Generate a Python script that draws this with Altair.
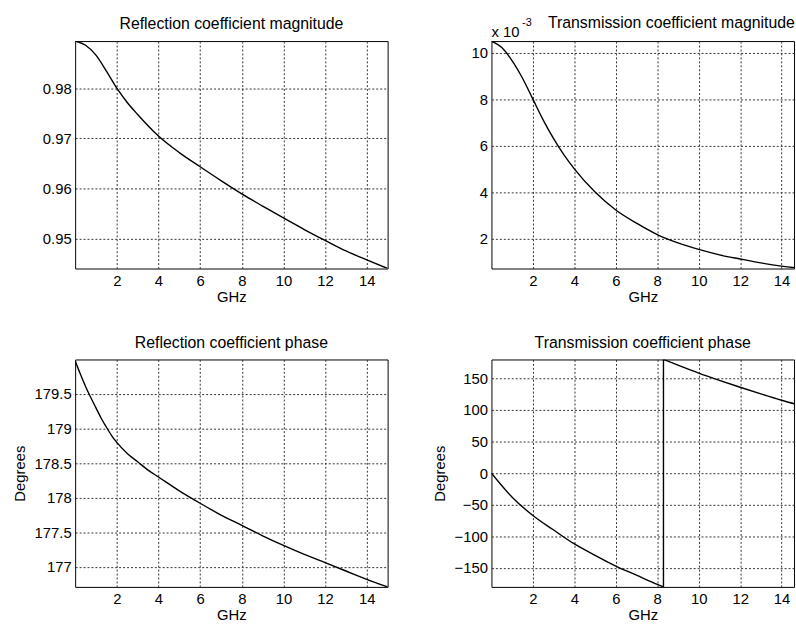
import altair as alt
import pandas as pd

# ---------------- data ----------------
freq_rm = [0, 0.5, 1, 1.5, 2, 2.5, 3, 4, 5, 6, 7, 8, 9, 10, 11, 12, 13, 14, 15]
refl_mag = [0.9894, 0.98857, 0.9866, 0.9834, 0.98, 0.97715, 0.97475, 0.97045,
            0.96714, 0.96431, 0.96155, 0.9589, 0.95647, 0.95409, 0.95178, 0.9496,
            0.9475, 0.94572, 0.944]

freq_tm = [0, 0.5, 1, 1.5, 2, 2.5, 3, 3.5, 4, 5, 6, 7, 8, 9, 10, 11, 12, 13, 14, 15]
trans_mag_e3 = [10.5, 10.22, 9.65, 8.9, 8.0, 7.1, 6.3, 5.6, 5.0, 4.0, 3.23, 2.66,
                2.17, 1.81, 1.53, 1.3, 1.12, 0.95, 0.81, 0.71]

freq_rp = [0, 0.25, 0.5, 0.75, 1, 1.25, 1.5, 1.75, 2, 2.5, 3, 3.5, 4, 5, 6, 7, 8,
           9, 10, 11, 12, 13, 14, 15]
refl_phase = [179.98, 179.79, 179.61, 179.45, 179.3, 179.15, 179.02, 178.9, 178.8,
              178.64, 178.52, 178.4, 178.3, 178.1, 177.92, 177.75, 177.6, 177.45,
              177.31, 177.18, 177.06, 176.94, 176.82, 176.71]

# transmission phase wraps from -180 to +180 near 8.3 GHz (segment = line piece)
freq_tp = [0, 1, 2, 3, 4, 5, 6, 7, 8, 8.3,
           8.3, 8.3,
           8.3, 9, 10, 11, 12, 13, 14, 15]
trans_phase = [0, -38, -67, -90, -112, -130, -147, -161.5, -176, -180,
               -180, 180,
               180, 171, 158.5, 147, 136, 125.5, 115.5, 106.5]
seg_tp = [0, 0, 0, 0, 0, 0, 0, 0, 0, 0,
          1, 1,
          2, 2, 2, 2, 2, 2, 2, 2]

x_ticks = [2, 4, 6, 8, 10, 12, 14]
rm_ticks = [0.95, 0.96, 0.97, 0.98]
tm_ticks = [2, 4, 6, 8, 10]
rp_ticks = [177, 177.5, 178, 178.5, 179, 179.5]
tp_ticks = [-150, -100, -50, 0, 50, 100, 150]

titles = ["Reflection coefficient magnitude", "Transmission coefficient magnitude",
          "Reflection coefficient phase", "Transmission coefficient phase"]
x_title = "GHz"
y_title = "Degrees"
exp_base = ["x 10"]
exp_power = ["-3"]

# ---------------- styling ----------------
FONT = "Liberation Sans"
FS = 15
GRID = dict(grid=True, gridColor="#333333", gridDash=[2, 2], gridWidth=1, gridOpacity=1)


def x_axis():
    return alt.Axis(title=x_title, values=x_ticks, format="d", ticks=False,
                    domain=False, labelPadding=5, titlePadding=1, **GRID)


def y_axis(values, fmt, title):
    if title:
        return alt.Axis(title=title, values=values, format=fmt, ticks=False,
                        domain=False, labelPadding=4, titlePadding=7, **GRID)
    return alt.Axis(title=None, values=values, format=fmt, ticks=False,
                    domain=False, labelPadding=4, **GRID)


def line_chart(freq, vals, xmax, ydom, yticks, yfmt, ytitle, seg=None):
    df = pd.DataFrame({"f": freq, "v": vals})
    enc = dict(
        x=alt.X("f:Q", scale=alt.Scale(domain=[0, xmax], nice=False, zero=False),
                axis=x_axis()),
        y=alt.Y("v:Q", scale=alt.Scale(domain=ydom, nice=False, zero=False),
                axis=y_axis(yticks, yfmt, ytitle)),
    )
    if seg is not None:
        df["s"] = seg
        df["i"] = list(range(len(freq)))
        enc["detail"] = alt.Detail("s:N")
        enc["order"] = alt.Order("i:Q")
    return alt.Chart(df).mark_line(color="black", strokeWidth=1.4, clip=True,
                                   interpolate="monotone").encode(**enc)


def title(text, dx=0, offset=9):
    return alt.TitleParams(text=text, dx=dx, offset=offset, fontSize=16,
                           font=FONT, fontWeight="normal", color="black")


W1, W2, H = 316, 306, 230
XMAX2 = 14.6

p1 = line_chart(freq_rm, refl_mag, 15, [0.944, 0.9894], rm_ticks, ".2f", None
                ).properties(width=W1, height=H, title=title(titles[0]))

base_txt = alt.Chart(pd.DataFrame({"t": exp_base})).mark_text(
    align="left", baseline="middle", fontSize=FS, font=FONT, color="black"
).encode(text="t:N", x=alt.value(0), y=alt.value(-9))
pow_txt = alt.Chart(pd.DataFrame({"t": exp_power})).mark_text(
    align="left", baseline="middle", fontSize=11, font=FONT, color="black"
).encode(text="t:N", x=alt.value(31), y=alt.value(-18))
p2 = alt.layer(
    line_chart(freq_tm, trans_mag_e3, XMAX2, [0.71, 10.5], tm_ticks, "d", None),
    base_txt, pow_txt,
).properties(width=W2, height=H, title=title(titles[1], dx=29, offset=-14))

p3 = line_chart(freq_rp, refl_phase, 15, [176.71, 180.0], rp_ticks, "~g", y_title
                ).properties(width=W1, height=H, title=title(titles[2]))
p4 = line_chart(freq_tp, trans_phase, XMAX2, [-180, 180], tp_ticks, "d", y_title,
                seg=seg_tp).properties(width=W2, height=H, title=title(titles[3]))

chart = alt.concat(p1, p2, p3, p4, columns=2).properties(
    spacing={"row": 29, "column": 43},
    padding={"left": 11, "top": 11, "right": 0, "bottom": 0},
    background="white",
).configure_view(stroke="black", strokeWidth=1).configure_axis(
    labelFont=FONT, labelFontSize=FS, labelColor="black",
    titleFont=FONT, titleFontSize=FS, titleColor="black", titleFontWeight="normal",
)

chart.save("out.html", embed_options={"renderer": "svg", "actions": False})
